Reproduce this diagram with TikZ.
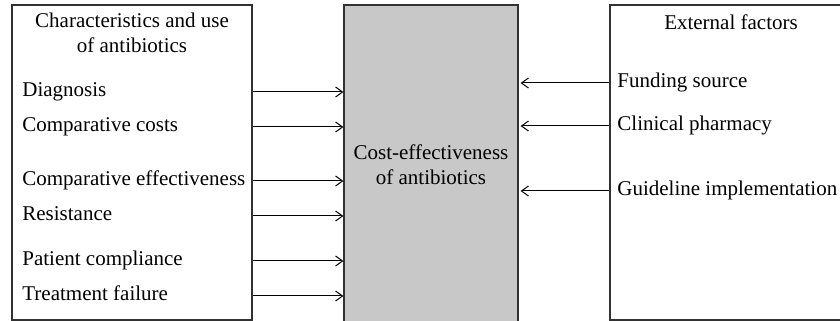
\documentclass[tikz,border=0pt]{standalone}
\usepackage{fontspec}
\setmainfont{Liberation Serif}
\usetikzlibrary{arrows.meta}
\definecolor{boxgray}{RGB}{200,200,200}
\definecolor{edgegray}{RGB}{50,50,50}
\begin{document}
\begin{tikzpicture}[x=0.5pt,y=0.5pt]
    \tikzset{
        panel/.style={draw=edgegray,line width=0.6pt,inner sep=0pt},
        item/.style={anchor=west,inner sep=0pt,text height=7pt,text depth=2.2pt,font=\fontsize{10.5}{12.5}\selectfont},
        head/.style={align=center,inner sep=0pt,font=\fontsize{10.5}{12.5}\selectfont},
        flow/.style={line width=0.5pt,-{Straight Barb[length=3.5pt,width=5pt]}},}
    \useasboundingbox (0,0) rectangle (840,321);
    \clip (0,0) rectangle (840,321);
    % boxes
    \node[panel,minimum width=120pt,minimum height=157.5pt] (uses) at (132,158.5) {};
    \node[panel,fill=boxgray,minimum width=87pt,minimum height=163pt] (cea) at (431,153) {};
    \node[panel,minimum width=121pt,minimum height=157.5pt] (ext) at (731,158.5) {};
    % headings
    \node[head] (usestitle) at (132,288) {Characteristics and use\\of antibiotics};
    \node[head] (exttitle) at (731,299) {External factors};
    \node[head] (ceatitle) at (431,156) {Cost-effectiveness\\of antibiotics};
    % left items
    \node[item] (diag) at (22,229) {Diagnosis};
    \node[item] (costs) at (22,194) {Comparative costs};
    \node[item] (effect) at (22,140) {Comparative effectiveness};
    \node[item] (resist) at (22,105) {Resistance};
    \node[item] (compl) at (22,60) {Patient compliance};
    \node[item] (fail) at (22,25) {Treatment failure};
    % right items
    \node[item] (fund) at (617,238) {Funding source};
    \node[item] (pharm) at (617,195) {Clinical pharmacy};
    \node[item] (guide) at (617,130) {Guideline implementation};
    \foreach \n in {diag,costs,effect,resist,compl,fail}
        \draw[flow] (uses.east |- \n.west) -- (cea.west |- \n.west);
    \foreach \n in {fund,pharm,guide}
        \draw[flow] (ext.west |- \n.west) -- ([xshift=1pt]cea.east |- \n.west);
\end{tikzpicture}
\end{document}
